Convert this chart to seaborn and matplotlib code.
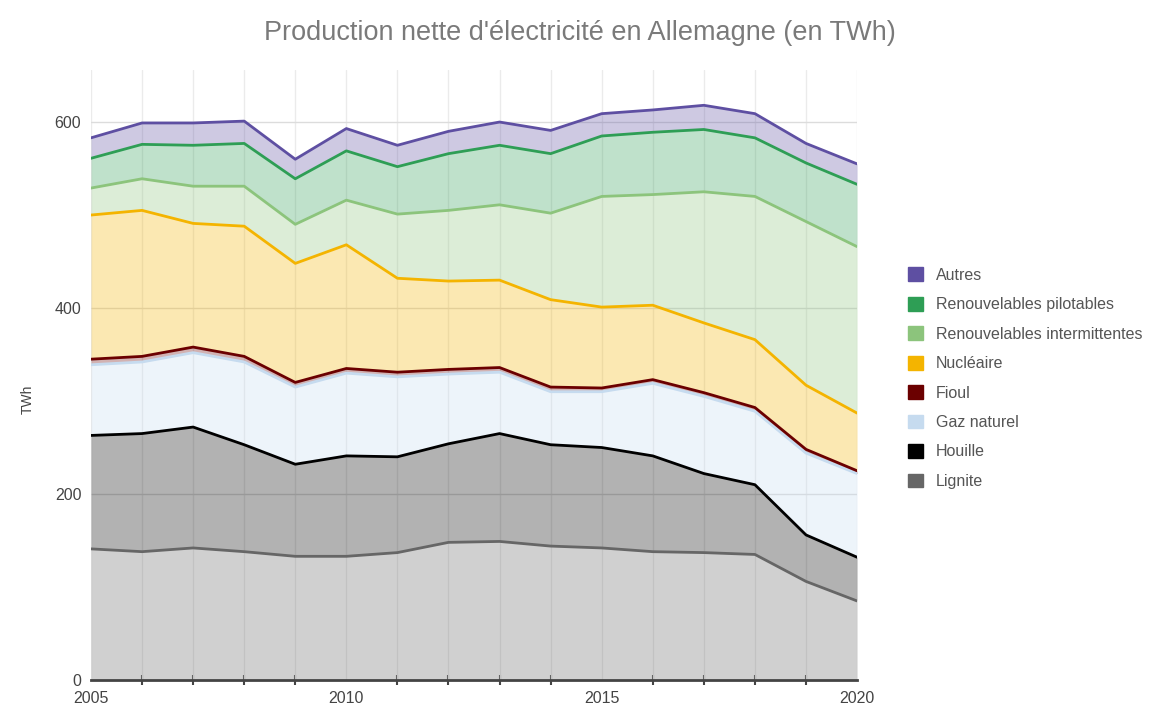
import numpy as np
import pandas as pd
import seaborn as sns
import matplotlib.pyplot as plt
from matplotlib.patches import Patch

annees = list(range(2005, 2021))
lignite = [141, 138, 142, 138, 133, 133, 137, 148, 149, 144, 142, 138, 137, 135, 106, 85]
houille = [122, 127, 130, 115, 99, 108, 103, 106, 116, 109, 108, 103, 85, 75, 50, 47]
gaz = [76, 77, 80, 89, 83, 89, 86, 75, 66, 57, 60, 78, 83, 79, 88, 90]
fioul = [6, 6, 6, 6, 5, 5, 5, 5, 5, 5, 4, 4, 4, 4, 4, 3]
nucleaire = [155, 157, 133, 140, 128, 133, 101, 95, 94, 94, 87, 80, 75, 73, 69, 62]
ren_inter = [29, 34, 40, 43, 42, 48, 69, 76, 81, 93, 119, 119, 141, 154, 176, 179]
ren_pilot = [32, 37, 44, 46, 49, 53, 51, 61, 64, 64, 65, 67, 67, 63, 63, 67]
autres = [22, 23, 24, 24, 21, 24, 23, 24, 25, 25, 24, 24, 26, 26, 21, 22]

sources = ['Lignite', 'Houille', 'Gaz naturel', 'Fioul', 'Nucléaire',
           'Renouvelables intermittentes', 'Renouvelables pilotables', 'Autres']
couleurs = ['#666666', '#000000', '#c6dbef', '#6b0000', '#f4b400',
            '#8cc47c', '#2e9e55', '#5e4fa2']

df = pd.DataFrame({
    'Lignite': lignite, 'Houille': houille, 'Gaz naturel': gaz, 'Fioul': fioul,
    'Nucléaire': nucleaire, 'Renouvelables intermittentes': ren_inter,
    'Renouvelables pilotables': ren_pilot, 'Autres': autres,
}, index=annees)
cumul = df.cumsum(axis=1)

sns.set_theme(style='white')
plt.rcParams['font.family'] = ['Liberation Sans', 'DejaVu Sans']

fig = plt.figure(figsize=(11.59, 7.11), dpi=100)
ax = fig.add_axes([0.0785, 0.0436, 0.661, 0.858])

# remplissages d'abord, puis les lignes par-dessus
bas = np.zeros(len(annees))
for nom, c in zip(sources, couleurs):
    haut = cumul[nom].values
    ax.fill_between(annees, bas, haut, color=c, alpha=0.3, lw=0, zorder=2)
    bas = haut
for nom, c in zip(sources, couleurs):
    sns.lineplot(x=annees, y=cumul[nom].values, ax=ax, color=c, lw=2, zorder=3)

ax.set_xlim(2005, 2020)
ax.set_ylim(0, 656)
ax.set_yticks([0, 200, 400, 600])
ax.set_xticks([2005, 2010, 2015, 2020])
ax.set_xticks(annees, minor=True)
ax.grid(False)
for a in annees:
    ax.axvline(a, color='#ebebeb', lw=1, zorder=1)
for v in [200, 400, 600]:
    ax.axhline(v, color='#dcdcdc', lw=1, zorder=1)

for s in ['top', 'right', 'left']:
    ax.spines[s].set_visible(False)
ax.spines['bottom'].set_color('#444444')
ax.spines['bottom'].set_linewidth(2)
ax.spines['bottom'].set_zorder(4)
ax.tick_params(axis='x', which='major', direction='inout', length=14, width=1.5,
               color='#444444', labelsize=11.5, labelcolor='#444444', pad=1)
ax.tick_params(axis='x', which='minor', direction='inout', length=7, width=1.5,
               color='#444444', bottom=True)
ax.tick_params(axis='y', length=0, labelsize=11.5, labelcolor='#444444', pad=7)
ax.set_xlabel('')
ax.set_ylabel('TWh', fontsize=10, color='#444444')
ax.yaxis.set_label_coords(-0.073, 0.46)

fig.text(0.5, 0.953, "Production nette d'électricité en Allemagne (en TWh)",
         ha='center', va='center', fontsize=19.5, color='#7a7a7a')

poignees = [Patch(facecolor=c, edgecolor=c, label=n)
            for n, c in zip(sources, couleurs)][::-1]
fig.legend(handles=poignees, loc='upper left', bbox_to_anchor=(0.771, 0.644),
           frameon=False, fontsize=11.5, labelcolor='#555555', handlelength=0.95,
           handleheight=0.95, handletextpad=0.8, labelspacing=0.88)

fig.savefig('out.png', dpi=100)
